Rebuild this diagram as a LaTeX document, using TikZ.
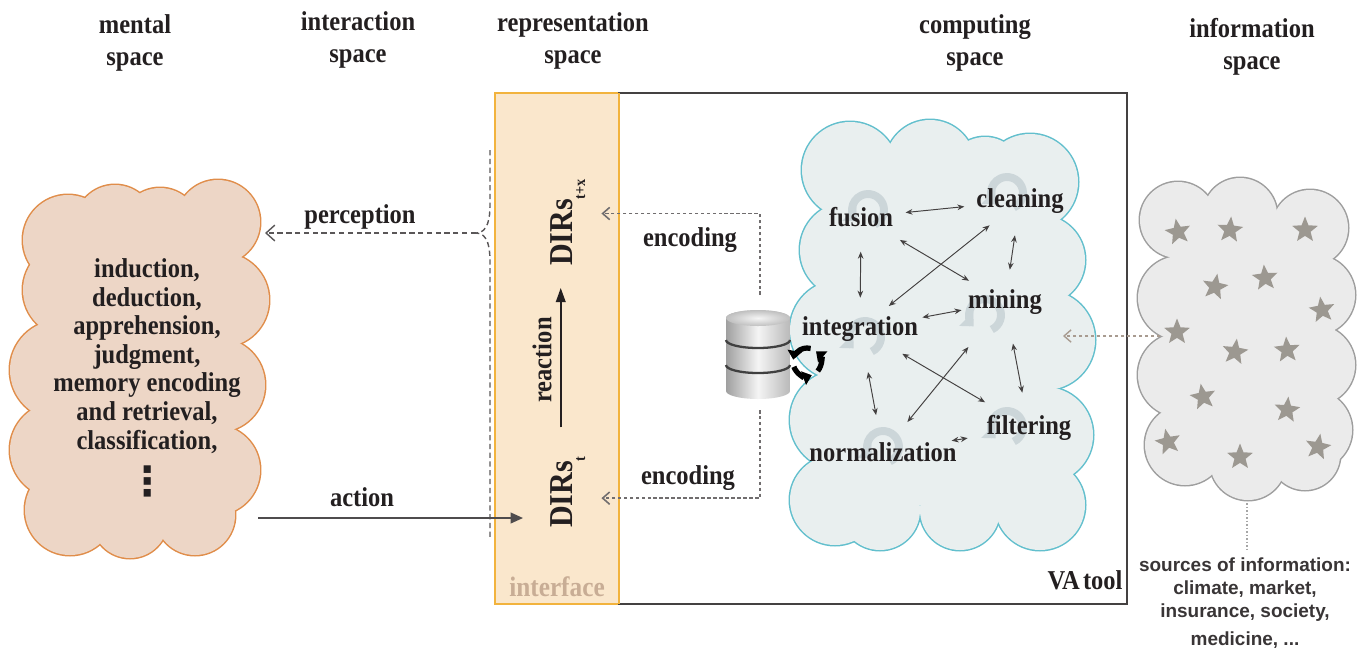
\documentclass[tikz,border=0pt]{standalone}
\usepackage{fontspec}
\setmainfont{Liberation Serif}
\newfontfamily\lblfont[FakeStretch=0.9]{Liberation Serif}
\newfontfamily\srcfont{Liberation Sans}
\newfontfamily\symfont{DejaVu Sans}
\usetikzlibrary{arrows.meta,shapes.geometric,calc}
\definecolor{ink}{HTML}{231F20}
\definecolor{ifill}{HTML}{FAE7CC}
\definecolor{idraw}{HTML}{F2B33D}
\definecolor{mfill}{HTML}{EDD6C6}
\definecolor{mdraw}{HTML}{E08D4A}
\definecolor{cfill}{HTML}{E9EFEF}
\definecolor{cdraw}{HTML}{62BFCD}
\definecolor{gfill}{HTML}{EBEBEB}
\definecolor{gdraw}{HTML}{9E9E9E}
\definecolor{starc}{HTML}{9C9891}
\definecolor{iconc}{HTML}{CCD6D9}
\definecolor{tanc}{HTML}{C8AD95}
\definecolor{infc}{HTML}{A89B90}
\begin{document}
\begin{tikzpicture}[x=0.02cm,y=0.02cm,
 hdr/.style={font=\lblfont\bfseries\fontsize{15.5}{18.3}\selectfont,text=ink,align=center,inner sep=0pt},
 lbl/.style={font=\lblfont\bfseries\fontsize{15.5}{16.3}\selectfont,text=ink,inner sep=1pt},
 dirsf/.style={font=\lblfont\bfseries\fontsize{19}{20}\selectfont,text=ink,inner sep=1pt},
 srcf/.style={font=\srcfont\bfseries\fontsize{10.8}{13}\selectfont,text=ink!90,align=center,inner sep=0pt},
 starn/.style={star,star points=5,star point ratio=2.3,fill=starc,draw=none,inner sep=0pt,minimum size=0.54cm},
 iconarc/.style={draw=iconc,line width=4.5pt,->,>={Triangle[length=6pt,width=11pt]}},
 cycarr/.style={draw=black,line width=3pt,->,>={Triangle[length=5pt,width=8pt]}},
 dblarr/.style={draw=ink!85,line width=0.55pt,<->,>={Stealth[length=4pt,width=3.2pt]}},
 encarr/.style={draw=ink!65,line width=0.9pt,dash pattern=on 2pt off 1.4pt,->,>={Straight Barb[length=4pt,width=7pt]}},
 dashln/.style={draw=ink!75,line width=0.8pt,dash pattern=on 3pt off 2pt},
 actarr/.style={draw=ink!80,line width=1.1pt,->,>={Triangle[length=7pt,width=6pt]}},
 reactarr/.style={draw=ink,line width=0.9pt,->,>={Triangle[length=8pt,width=5.5pt]}},
 infarr/.style={draw=infc,line width=0.8pt,dash pattern=on 2pt off 1.4pt,->,>={Straight Barb[length=4pt,width=7pt]}},
 boxn/.style={inner sep=0pt,outer sep=0pt},
]
\useasboundingbox (0,0) rectangle (1368,-650);

% headers
\node[hdr] (hmental) at (135,-43) {mental\\space};
\node[hdr] (hinter) at (358,-40) {interaction\\space};
\node[hdr] (hrepr) at (573,-41) {representation\\space};
\node[hdr] (hcomp) at (975,-43) {computing\\space};
\node[hdr] (hinfo) at (1252,-47) {information\\space};

% interface and VA tool boxes
\node[boxn,draw=idraw,fill=ifill,line width=1.3pt,minimum width={124*0.02cm},minimum height={511*0.02cm}] (iface) at (557,-348.5) {};
\node[boxn,draw=ink!85,line width=1.1pt,minimum width={508*0.02cm},minimum height={511*0.02cm}] (vabox) at (873,-348.5) {};
\draw[idraw,line width=1.3pt] (iface.north east) -- (iface.south east);

% mental cloud
\foreach \cx/\cy/\r in {68/240/45,115/225/40,160/228/40,218/222/42,222/300/47,218/385/47,215/470/45,195/515/40,130/520/38,70/510/45,58/450/48,60/370/50,70/290/47}
  \draw[mdraw,line width=1.7pt] (\cx,-\cy) circle (\r);
\foreach \cx/\cy/\r in {68/240/45,115/225/40,160/228/40,218/222/42,222/300/47,218/385/47,215/470/45,195/515/40,130/520/38,70/510/45,58/450/48,60/370/50,70/290/47}
  \fill[mfill] (\cx,-\cy) circle (\r);
\fill[mfill] (60,-230) rectangle (215,-515);

% computing cloud
\foreach \cx/\cy/\r in {850/170/48,930/165/45,985/175/38,1030/182/48,1040/260/45,1045/340/50,1045/435/48,1040/505/45,960/510/40,880/510/40,835/500/45,840/420/50,840/330/50,848/250/48}
  \draw[cdraw,line width=1.7pt] (\cx,-\cy) circle (\r);
\foreach \cx/\cy/\r in {850/170/48,930/165/45,985/175/38,1030/182/48,1040/260/45,1045/340/50,1045/435/48,1040/505/45,960/510/40,880/510/40,835/500/45,840/420/50,840/330/50,848/250/48}
  \fill[cfill] (\cx,-\cy) circle (\r);
\fill[cfill] (850,-170) rectangle (1040,-505);

% information cloud
\foreach \cx/\cy/\r in {1178/220/38,1240/215/37,1310/228/38,1315/295/40,1315/365/40,1312/430/40,1305/455/35,1248/462/38,1185/445/40,1180/375/42,1180/298/42}
  \draw[gdraw,line width=1.7pt] (\cx,-\cy) circle (\r);
\foreach \cx/\cy/\r in {1178/220/38,1240/215/37,1310/228/38,1315/295/40,1315/365/40,1312/430/40,1305/455/35,1248/462/38,1185/445/40,1180/375/42,1180/298/42}
  \fill[gfill] (\cx,-\cy) circle (\r);
\fill[gfill] (1178,-220) rectangle (1312,-455);

% stars
\foreach \sx/\sy/\sr [count=\i] in {1178/232/10,1230/230/-5,1305/230/0,1215/287/-10,1265/278/5,1322/310/8,1177/332/0,1235/352/-8,1287/350/4,1203/397/10,1287/410/-6,1168/442/12,1240/457/0,1318/447/-10}
  \node[starn,rotate=\sr] (s\i) at (\sx,-\sy) {};

% refresh icons in computing cloud
\foreach \ix/\iy in {868/210,1007/193,985/315,865/337,1007/427,883/447}{
  \draw[iconarc] (\ix,-\iy) ++(-65:16) arc[start angle=-65,end angle=225,radius=16];
}

% computing labels
\node[lbl] (fus) at (861,-217) {fusion};
\node[lbl] (cle) at (1020,-201) {cleaning};
\node[lbl] (min) at (1005,-302) {mining};
\node[lbl] (intg) at (860,-329) {integration};
\node[lbl] (fil) at (1029,-428) {filtering};
\node[lbl] (nor) at (883,-452) {normalization};

\draw[dblarr] ($(fus)!0.28!(cle)$) -- ($(fus)!0.65!(cle)$);
\draw[dblarr] ($(fus)!0.31!(intg)$) -- ($(fus)!0.72!(intg)$);
\draw[dblarr] ($(fus)!0.27!(min)$) -- ($(fus)!0.75!(min)$);
\draw[dblarr] ($(cle)!0.19!(intg)$) -- ($(cle)!0.82!(intg)$);
\draw[dblarr] ($(cle)!0.34!(min)$) -- ($(cle)!0.68!(min)$);
\draw[dblarr] ($(intg)!0.43!(min)$) -- ($(intg)!0.70!(min)$);
\draw[dblarr] ($(intg)!0.25!(fil)$) -- ($(intg)!0.74!(fil)$);
\draw[dblarr] ($(intg)!0.35!(nor)$) -- ($(intg)!0.70!(nor)$);
\draw[dblarr] ($(min)!0.30!(nor)$) -- ($(min)!0.80!(nor)$);
\draw[dblarr] ($(min)!0.33!(fil)$) -- ($(min)!0.72!(fil)$);
\draw[dblarr] ($(nor)!0.47!(fil)$) -- ($(nor)!0.58!(fil)$);

% database
\node[boxn,minimum width={64*0.02cm},minimum height={90*0.02cm}] (db) at (758,-354) {};
\begin{scope}[shift={(db.center)}]
  \shade[left color=gray!75,right color=gray!55,middle color=gray!8] (-32,36) -- (-32,-37) arc[start angle=180,end angle=360,x radius=32,y radius=8] -- (32,36) arc[start angle=0,end angle=180,x radius=32,y radius=8] -- cycle;
  \shade[inner color=gray!8,outer color=gray!50] (0,36) ellipse[x radius=32,y radius=8];
  \draw[gray!50!black,line width=1.3pt] (-32,14) arc[start angle=180,end angle=360,x radius=32,y radius=8];
  \draw[gray!50!black,line width=1.3pt] (-32,-11) arc[start angle=180,end angle=360,x radius=32,y radius=8];
\end{scope}
% cycle arrows
\coordinate (cyc) at (807,-362);
\draw[cycarr] (cyc) ++(75:14) arc[start angle=75,end angle=170,radius=14];
\draw[cycarr] (cyc) ++(200:14) arc[start angle=200,end angle=290,radius=14];
\draw[cycarr] (cyc) ++(320:14) arc[start angle=320,end angle=410,radius=14];

% representation space content
\node[dirsf,rotate=90,anchor=base west] (dtop) at (572,-268) {DIRs\raisebox{-7.5pt}{\fontsize{9}{9}\selectfont t+x}};
\node[dirsf,rotate=90,anchor=base west] (dbot) at (572,-530) {DIRs\raisebox{-7.5pt}{\fontsize{9}{9}\selectfont t}};
\node[lbl,rotate=90] (reactl) at (542,-360) {reaction};
\draw[reactarr] ($(dbot.east)+(-7,27)$) -- ($(dtop.west)+(-7,-20)$);
\node[lbl,text=tanc,font=\lblfont\bfseries\fontsize{16}{17}\selectfont] (ifl) at (557,-587) {interface};
\node[lbl] (vatl) at (1085,-580) {VA\hspace{0.12em}tool};

% encoding
\node[lbl] (enc1) at (690,-240) {encoding};
\node[lbl] (enc2) at (688,-478) {encoding};
\draw[encarr] ($(db.north)+(2,14)$) |- ($(dtop.south)+(14,9)$);
\draw[encarr] ($(db.south)+(2,-11)$) |- ($(dbot.south)+(14,-6)$);

% mental cloud text
\node[lbl,align=center] (mtext) at (147,-356) {induction,\\deduction,\\apprehension,\\judgment,\\memory encoding\\and retrieval,\\classification,};
\node[lbl,font=\symfont\bfseries\fontsize{23}{24}\selectfont] (mdots) at (148,-481) {⋮};

% perception and action
\coordinate (bmid) at (476,-233);
\coordinate (mentalE) at (265,-233);
\coordinate (actS) at (258,-518);
\draw[dashln] (490,-150) -- (490,-205) to[out=-90,in=0] (bmid) to[out=0,in=90] (490,-262) -- (490,-538);
\draw[dashln,->,>={Straight Barb[length=5pt,width=9pt]}] (bmid) -- (mentalE);
\node[lbl] (percl) at (360,-217) {perception};
\node[lbl] (actl) at (362,-497) {action};
\draw[actarr] (actS) -- ($(actS -| dbot.north)+(-25,0)$);

% information flow
\coordinate (infoW) at (1160,-336);
\coordinate (compE) at (1063,-336);
\draw[infarr] (infoW) -- (compE);
\coordinate (infoS) at (1247,-503);
\node[srcf] (srcs) at (1245,-603) {sources of information:\\climate, market,\\insurance, society,\\[3pt]medicine, ...};
\draw[gray!70,line width=0.6pt,dash pattern=on 1pt off 1pt] (infoS) -- ($(srcs.north)+(2,6)$);
\end{tikzpicture}
\end{document}
